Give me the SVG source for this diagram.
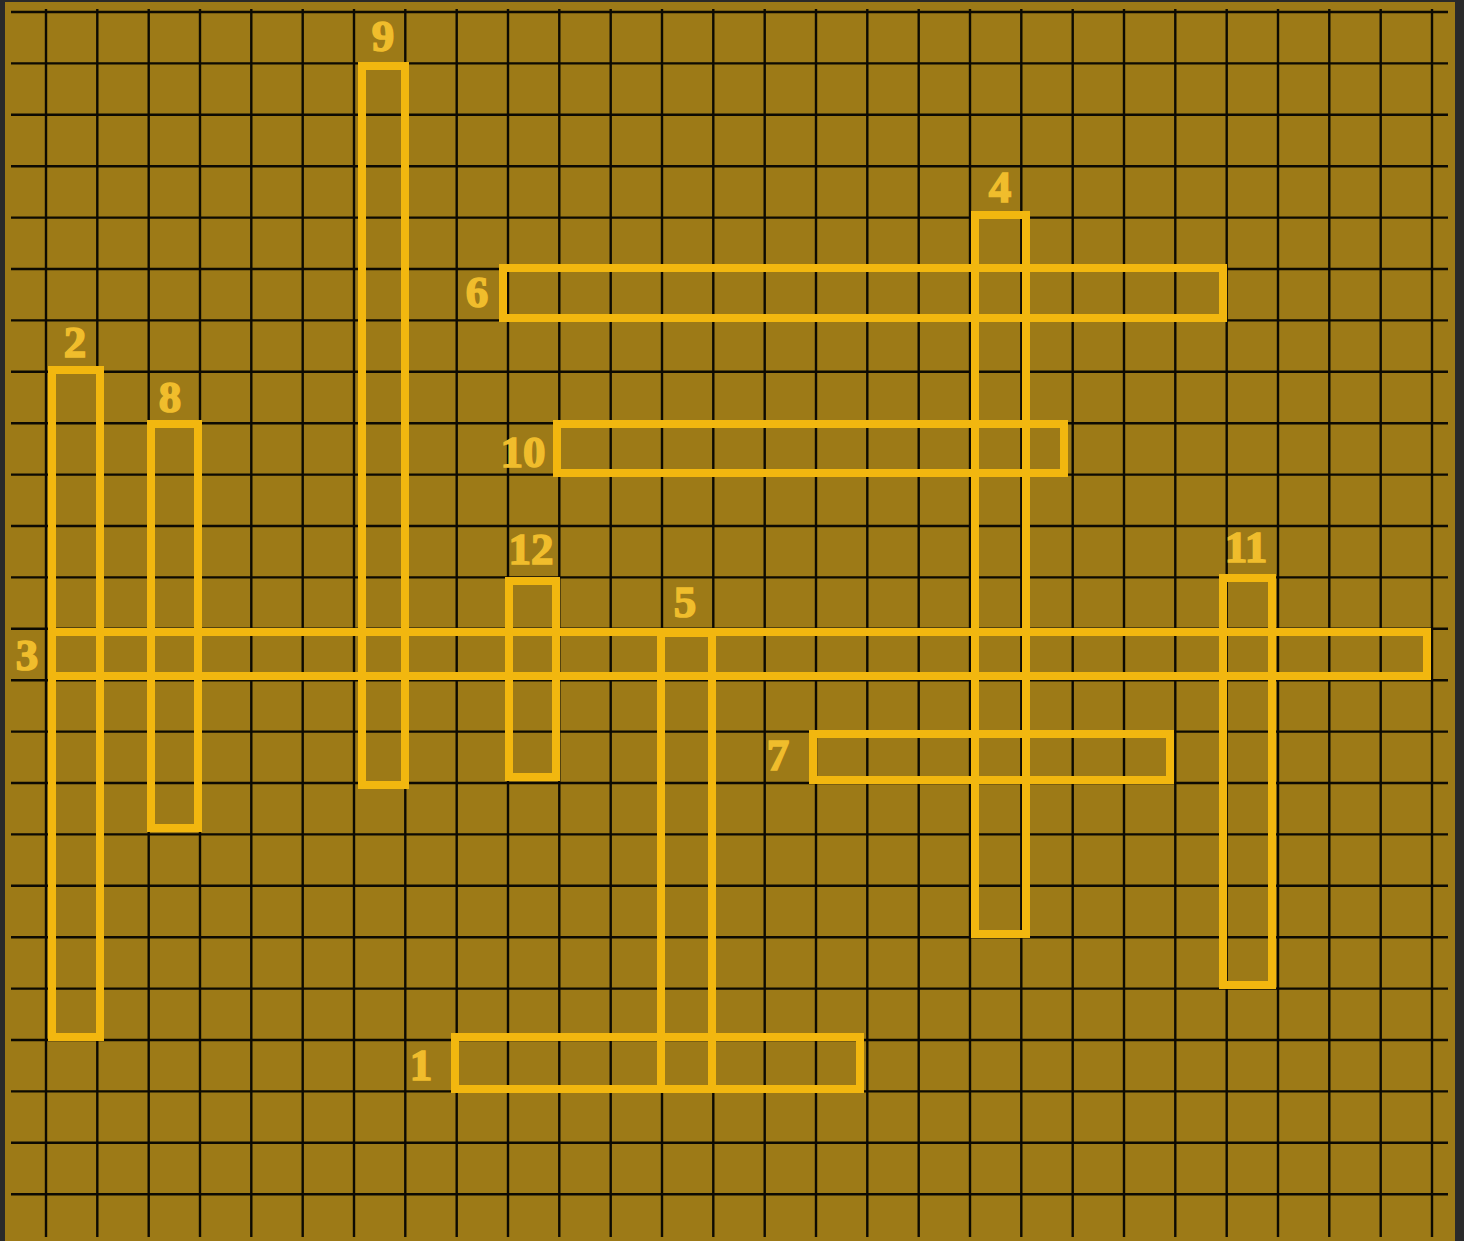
<svg xmlns="http://www.w3.org/2000/svg" width="1464" height="1241" viewBox="0 0 1464 1241">
<style>
.g{stroke:#0d0a02;stroke-width:2.4;fill:none}
.w{fill:none;stroke:#f2b70f;stroke-width:8}
.n{font-family:"Liberation Serif","DejaVu Serif",serif;font-weight:bold;font-size:45px;fill:#f0bd2c;stroke:#f0bd2c;stroke-width:1.6;text-anchor:middle}
</style>
<rect x="0" y="0" width="1464" height="1241" fill="#2a2a2a"/>
<rect x="5" y="2" width="1450" height="1239" fill="#9d7a17"/>
<g id="grid" class="g">
<path d="M46 9V1237M97.3 9V1237M148.7 9V1237M200 9V1237M251.3 9V1237M302.7 9V1237M354 9V1237M405.3 9V1237M456.7 9V1237M508 9V1237M559.3 9V1237M610.7 9V1237M662 9V1237M713.3 9V1237M764.7 9V1237M816 9V1237M867.3 9V1237M918.7 9V1237M970 9V1237M1021.3 9V1237M1072.7 9V1237M1124 9V1237M1175.3 9V1237M1226.7 9V1237M1278 9V1237M1329.3 9V1237M1380.7 9V1237M1432 9V1237"/>
<path d="M11 12H1448M11 63.4H1448M11 114.8H1448M11 166.2H1448M11 217.6H1448M11 269H1448M11 320.4H1448M11 371.8H1448M11 423.2H1448M11 474.6H1448M11 526H1448M11 577.4H1448M11 628.8H1448M11 680.2H1448M11 731.6H1448M11 783H1448M11 834.4H1448M11 885.8H1448M11 937.2H1448M11 988.6H1448M11 1040H1448M11 1091.4H1448M11 1142.8H1448M11 1194.2H1448"/>
</g>
<g id="connectors"></g>
<g id="word9"><rect class="w" x="362" y="66" width="43" height="719"/><text class="n" x="383" y="51">9</text></g>
<g id="word2"><rect class="w" x="52" y="370" width="48" height="667"/><text class="n" x="75" y="357">2</text></g>
<g id="word8"><rect class="w" x="151" y="424" width="47" height="404"/><text class="n" x="170" y="412">8</text></g>
<g id="word6"><rect class="w" x="503" y="268" width="720" height="50"/><text class="n" x="477" y="307">6</text></g>
<g id="word4"><rect class="w" x="975" y="215" width="51" height="719"/><text class="n" x="1000" y="202">4</text></g>
<g id="word10"><rect class="w" x="557" y="424" width="507" height="49"/><text class="n" x="523" y="467">10</text></g>
<g id="word12"><rect class="w" x="509" y="581" width="47" height="196"/><text class="n" x="531" y="564">12</text></g>
<g id="word5"><rect class="w" x="661" y="633" width="51" height="456"/><text class="n" x="685" y="617">5</text></g>
<g id="word11"><rect class="w" x="1223" y="578" width="49" height="407"/><text class="n" x="1246" y="562">11</text></g>
<g id="word3"><rect class="w" x="52" y="632" width="1375" height="44"/><text class="n" x="27" y="670">3</text></g>
<g id="word7"><rect class="w" x="813" y="734" width="357" height="46"/><text class="n" x="778" y="770">7</text></g>
<g id="word1"><rect class="w" x="455" y="1037" width="405" height="52"/><text class="n" x="421" y="1080">1</text></g>
</svg>
